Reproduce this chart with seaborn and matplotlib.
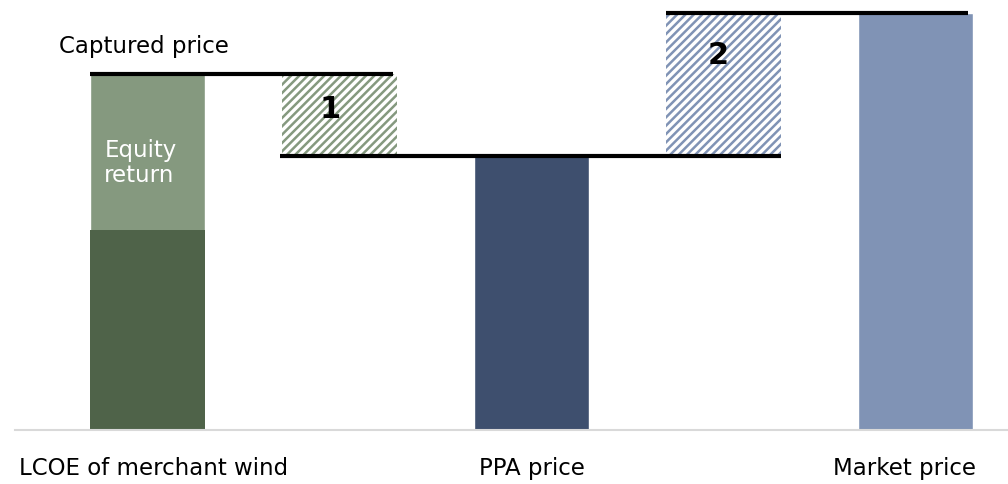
import numpy as np
import pandas as pd
import matplotlib
matplotlib.use('Agg')
import matplotlib.pyplot as plt
import seaborn as sns

sns.set_style('white')
plt.rcParams['font.family'] = ['DejaVu Sans']
plt.rcParams['text.color'] = 'black'
plt.rcParams['xtick.color'] = 'black'
plt.rcParams['hatch.linewidth'] = 1.8

# --- dados (valores estimados a partir da figura) ---
slots = ['LCOE of merchant wind', 'gap1', 'PPA price', 'gap2', 'Market price']
bar_names = ['LCOE of merchant wind', 'PPA price', 'Market price']
bar_totals = [87, 67, 102]
bar_colors = ['#85997f', '#3e4f6e', '#8093b5']
lcoe_base = 49          # parte escura da barra LCOE
captured_price = 87
ppa_price = 67
market_price = 102
tick_labels = ['LCOE of merchant wind', 'PPA price', 'Market price']

df = pd.DataFrame({'cat': bar_names, 'val': bar_totals})

fig = plt.figure(figsize=(10.08, 4.85), dpi=100)
ax = fig.add_axes([15 / 1008, 54 / 485, 993 / 1008, 429.5 / 485])

sns.barplot(data=df, x='cat', y='val', order=slots, hue='cat', palette=bar_colors,
            width=0.6, legend=False, ax=ax, saturation=1)

# parte de custo (escura) da barra LCOE
ax.bar(0, lcoe_base, width=0.6, color='#4f6349', linewidth=0)

# barras flutuantes hachuradas
ax.bar(1, captured_price - ppa_price, bottom=ppa_price, width=0.6, color='white',
       edgecolor='#85997f', hatch='////', linewidth=0)
ax.bar(3, market_price - ppa_price, bottom=ppa_price, width=0.6, color='white',
       edgecolor='#8093b5', hatch='////', linewidth=0)

# linhas de nível
ax.hlines(captured_price, -0.3, 1.28, color='black', lw=3)
ax.hlines(ppa_price, 0.69, 3.30, color='black', lw=3)
ax.hlines(market_price, 2.70, 4.27, color='black', lw=3)

ax.text(-0.46, 94, 'Captured price', fontsize=16.5, ha='left', va='center')
ax.text(-0.225, 65.5, 'Equity\nreturn', fontsize=16.5, color='white', ha='left',
        va='center', linespacing=1.15)
ax.text(0.95, 78.5, '1', fontsize=22, fontweight='bold', ha='center', va='center')
ax.text(2.97, 91.9, '2', fontsize=22, fontweight='bold', ha='center', va='center')

ax.set_xlim(-0.69, 4.48)
ax.set_ylim(0, 105)
ax.set_xticks([0.03, 2, 3.94])
ax.set_xticklabels(tick_labels, fontsize=16.5)
ax.tick_params(axis='x', length=0, pad=19)
ax.set_yticks([])
ax.set_xlabel('')
ax.set_ylabel('')
for s in ['top', 'right', 'left']:
    ax.spines[s].set_visible(False)
ax.spines['bottom'].set_color('#d9d9d9')
ax.spines['bottom'].set_linewidth(1.5)

fig.savefig('out.png', dpi=100)
